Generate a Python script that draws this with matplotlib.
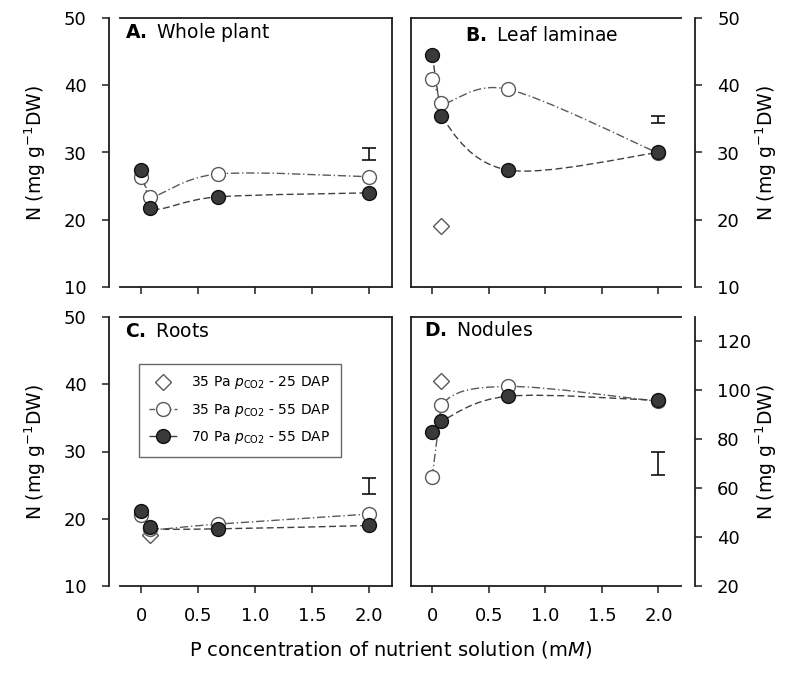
"""
N concentration vs P supply, four panels (whole plant, leaf laminae, roots, nodules).
"""

import matplotlib

matplotlib.use("Agg")
import matplotlib.pyplot as plt
from matplotlib.path import Path
from matplotlib.patches import PathPatch
from matplotlib.lines import Line2D

plt.rcParams["font.family"] = ["DejaVu Sans"]
plt.rcParams["mathtext.fontset"] = "dejavusans"

# P concentrations (mM)
p_conc = [0, 0.08, 0.67, 2.0]
p_diamond = 0.08

# panel A - whole plant
a_open = [26.4, 23.4, 26.8, 26.4]
a_filled = [27.4, 21.7, 23.4, 24.0]
a_err = (29.8, 0.9)

# panel B - leaf laminae
b_open = [41.0, 37.3, 39.4, 29.9]
b_filled = [44.5, 35.5, 27.4, 30.0]
b_diamond = 19.1
b_err = (34.9, 0.5)

# panel C - roots
c_open = [20.5, 18.5, 19.2, 20.7]
c_filled = [21.2, 18.7, 18.5, 19.0]
c_diamond = 17.6
c_err = (24.9, 1.2)

# panel D - nodules
d_open = [64.5, 93.9, 101.6, 95.5]
d_filled = [82.9, 87.3, 97.6, 95.9]
d_diamond = 103.7
d_err = (70.0, 4.7)

titles = ["A.", "B.", "C.", "D."]
names = ["Whole plant", "Leaf laminae", "Roots", "Nodules"]

ylab = r"N (mg g$^{\mathregular{-1}}$DW)"


def smooth_path(xs, ys):
    # straight first segment, then Catmull-Rom (as Bezier) through the rest
    verts = [(xs[0], ys[0]), (xs[1], ys[1])]
    codes = [Path.MOVETO, Path.LINETO]
    pts = list(zip(xs, ys))
    n = len(pts)
    for i in range(1, n - 1):
        p0 = pts[i - 1]
        p1 = pts[i]
        p2 = pts[i + 1]
        p3 = pts[i + 2] if i + 2 < n else pts[i + 1]
        c1 = (p1[0] + (p2[0] - p0[0]) / 6, p1[1] + (p2[1] - p0[1]) / 6)
        c2 = (p2[0] - (p3[0] - p1[0]) / 6, p2[1] - (p3[1] - p1[1]) / 6)
        verts += [c1, c2, p2]
        codes += [Path.CURVE4] * 3
    return Path(verts, codes)


fig = plt.figure(figsize=(8.07, 6.74), dpi=100)

W, H = 807.0, 674.0
cols = [(120, 392), (411, 681)]
rows = [(18, 287), (317, 586)]

panels = [
    (a_open, a_filled, None, a_err, (10, 50), [10, 20, 30, 40, 50]),
    (b_open, b_filled, b_diamond, b_err, (10, 50), [10, 20, 30, 40, 50]),
    (c_open, c_filled, c_diamond, c_err, (10, 50), [10, 20, 30, 40, 50]),
    (d_open, d_filled, d_diamond, d_err, (20, 130), [20, 40, 60, 80, 100, 120]),
]

title_pos = [(0.02, 0.925), (0.2, 0.915), (0.02, 0.925), (0.05, 0.93)]

spine_col = "#1e1e1e"
open_col = "#5a5a5a"
fill_col = "#3a3a3a"

axes = []
for k, (op, fi, dia, err, ylim, yt) in enumerate(panels):
    r, c = divmod(k, 2)
    x0, x1 = cols[c]
    y0, y1 = rows[r]
    ax = fig.add_axes([x0 / W, 1 - y1 / H, (x1 - x0) / W, (y1 - y0) / H])
    axes.append(ax)
    ax.set_xlim(-0.187, 2.2)
    ax.set_ylim(*ylim)
    ax.set_yticks(yt)
    ax.set_xticks([0, 0.5, 1.0, 1.5, 2.0])

    for s in ax.spines.values():
        s.set_color(spine_col)
        s.set_linewidth(1.3)

    if c == 0:
        ax.spines["left"].set_position(("outward", 8))
        ax.yaxis.tick_left()
        ax.set_ylabel(ylab, fontsize=13.5)
        ax.yaxis.set_label_coords(-0.265, 0.5)
    else:
        ax.spines["right"].set_position(("outward", 10))
        ax.yaxis.tick_right()
        ax.yaxis.set_label_position("right")
        ax.set_ylabel(ylab, fontsize=13.5, rotation=90)
        ax.yaxis.set_label_coords(1.27, 0.5)

    ax.tick_params(axis="both", direction="out", length=5, width=1.1,
                   color=spine_col, labelsize=13)
    ax.tick_params(axis="y", pad=11)
    ax.tick_params(axis="x", pad=10)
    if r == 0:
        ax.tick_params(axis="x", labelbottom=False)
    else:
        ax.set_xticklabels(["0", "0.5", "1.0", "1.5", "2.0"])

    # curves
    ax.add_patch(PathPatch(smooth_path(p_conc, op), fill=False, ec=open_col,
                           lw=1.0, ls=(0, (6, 2, 1, 2)), zorder=2))
    ax.add_patch(PathPatch(smooth_path(p_conc, fi), fill=False, ec="#404040",
                           lw=1.0, ls=(0, (5, 2.5)), zorder=2))

    if dia is not None:
        ax.plot([p_diamond], [dia], ls="none", marker="D", ms=8.5, mfc="white",
                mec=open_col, mew=1.0, zorder=3)
    ax.plot(p_conc, op, ls="none", marker="o", ms=10, mfc="white",
            mec=open_col, mew=1.0, zorder=4)
    ax.plot(p_conc, fi, ls="none", marker="o", ms=10, mfc=fill_col,
            mec="#111111", mew=1.0, zorder=5)

    ax.errorbar([2.0], [err[0]], yerr=[err[1]], fmt="none", ecolor="#111111",
                elinewidth=1.2, capsize=5, capthick=1.2, zorder=6)

    tx, ty = title_pos[k]
    ax.text(tx, ty, r"$\mathbf{" + titles[k] + "}$ " + names[k],
            transform=ax.transAxes, fontsize=13.5, va="baseline", ha="left")

# legend in panel C
handles = [
    Line2D([], [], ls="none", marker="D", ms=8.5, mfc="white", mec=open_col, mew=1.0),
    Line2D([], [], ls=(0, (4, 2, 1, 2)), color=open_col, lw=1.0, marker="o",
           ms=10, mfc="white", mec=open_col, mew=1.0),
    Line2D([], [], ls=(0, (5, 2.5)), color="#404040", lw=1.0, marker="o",
           ms=10, mfc=fill_col, mec="#111111", mew=1.0),
]
labels = [
    r"35 Pa $\mathit{p}_{\mathregular{CO2}}$ - 25 DAP",
    r"35 Pa $\mathit{p}_{\mathregular{CO2}}$ - 55 DAP",
    r"70 Pa $\mathit{p}_{\mathregular{CO2}}$ - 55 DAP",
]
leg = axes[2].legend(handles, labels, loc="upper left", bbox_to_anchor=(0.07, 0.825),
                     fontsize=10, frameon=True, fancybox=False, handlelength=2.0,
                     handletextpad=1.0, labelspacing=0.75, borderpad=0.75,
                     borderaxespad=0)
leg.get_frame().set_edgecolor("#444444")
leg.get_frame().set_linewidth(1.0)

fig.text(391 / W, 1 - 650 / H, r"P concentration of nutrient solution (m$\mathit{M}$)",
         ha="center", va="center", fontsize=14)

fig.savefig("out.png", dpi=100)
